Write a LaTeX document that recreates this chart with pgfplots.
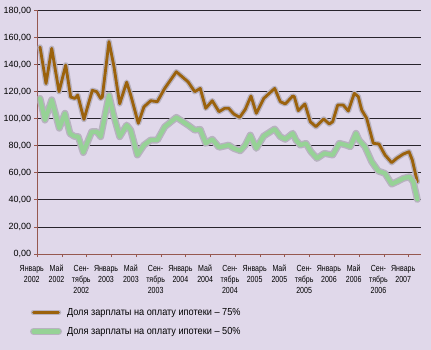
\documentclass[border=0pt]{standalone}
\usepackage{pgfplots}
\pgfplotsset{compat=1.18}
\usepackage{fontspec}
\setmainfont{Liberation Sans}
\newfontfamily\narrowfont[FakeStretch=0.8]{Liberation Sans}
\newfontfamily\legfont[FakeStretch=0.9]{Liberation Sans}
\definecolor{bgc}{RGB}{224,216,234}
\definecolor{axc}{RGB}{150,88,80}
\definecolor{gridc}{RGB}{40,36,44}
\definecolor{brownc}{RGB}{155,98,12}
\definecolor{greenc}{RGB}{150,210,150}
\definecolor{haloc}{RGB}{184,178,192}
\pgfplotstableread{
m v
0.44 153
1.41 126
2.33 152
3.51 120
4.59 139.7
5.40 116
6.09 115
6.53 117.5
7.54 99.5
8.89 121
9.60 120
10.24 115
10.50 116
11.58 157
12.39 138.4
13.31 111
14.44 127
15.09 117.5
16.32 96.6
17.23 108.8
18.32 113.3
19.39 112.6
20.58 122.4
22.46 134.7
24.35 127.3
25.43 120
26.33 122.4
27.21 107.7
28.27 113.3
29.35 105.2
30.27 107.7
30.92 107.7
31.73 103.5
32.70 101
33.60 106.9
34.52 116.8
35.38 104
36.58 115
38.35 122.4
39.26 112.6
40.06 110.9
41.26 116.8
41.52 116.3
42.16 105.9
43.24 110.9
44.10 97.8
45.02 94.1
46.27 99.8
47.17 96.1
47.72 97.8
48.53 110.1
49.43 110.1
50.24 105.7
51.21 118.8
51.86 116.3
52.41 106.4
53.21 100.3
54.28 81.8
55.20 81.3
56.17 73.2
57.25 67.5
58.06 70.7
59.13 73.9
60.05 75.6
60.58 69.5
61.39 53.4
}\brownt
\pgfplotstableread{
m v
0.44 115
1.24 99
2.33 114
3.55 93
4.47 104
5.28 89
5.98 87
6.62 86.7
7.43 75
8.79 90.4
9.60 90.4
10.24 86.7
11.58 117.5
12.39 101.5
13.31 86.7
14.44 95.3
15.09 91.6
16.16 73.2
17.23 80.5
18.32 84.2
19.39 84.2
20.58 94
22.46 101
24.35 95.3
25.43 91.6
26.33 92.1
27.21 81.8
28.27 84.8
29.35 78.9
30.27 79.8
30.92 80.5
31.73 78.1
32.79 76.3
33.60 80.5
34.41 87.9
35.38 78.1
36.58 87.2
38.35 92.4
39.26 86.7
40.06 84.8
41.26 89.2
41.79 84.2
42.49 80.5
43.40 81.8
44.21 75.6
45.19 70.7
46.37 74.4
47.72 73.2
48.79 81.8
49.87 80.5
50.57 79.3
51.49 89.2
51.97 84.2
52.93 79.3
54.02 68.2
55.09 61.3
56.17 59.6
57.25 51.7
58.06 53.4
59.13 55.9
60.11 57.1
60.74 53.4
61.39 40.4
}\greent
\begin{document}
\begin{tikzpicture}
\fill[bgc] (0,0) rectangle (431bp,350bp);
\begin{axis}[
  at={(37.3bp,96bp)}, anchor=south west,
  scale only axis, width=383.4bp, height=243.5bp,
  xmin=0, xmax=61.94, ymin=0, ymax=180,
  axis x line=bottom, axis y line=left,
  axis line style={color=axc, line width=0.8bp, -},
  xtick={0,4,...,60},
  xticklabels={{Январь\\2002},{Май\\2002},{Сен-\\тябрь\\2002},{Январь\\2003},{Май\\2003},{Сен-\\тябрь\\2003},{Январь\\2004},{Май\\2004},{Сен-\\тябрь\\2004},{Январь\\2005},{Май\\2005},{Сен-\\тябрь\\2005},{Январь\\2006},{Май\\2006},{Сен-\\тябрь\\2006},{Январь\\2007}},
  xticklabel style={anchor=north, align=center, inner sep=0pt, yshift=-8bp, xshift=-5.5bp,
     font=\narrowfont\fontsize{8.8bp}{11bp}\selectfont},
  ytick={0,20,...,180},
  yticklabel style={anchor=east, inner sep=0pt, xshift=-3bp, font=\fontsize{9bp}{10bp}\selectfont},
  /pgf/number format/.cd, fixed, fixed zerofill, precision=2, use comma, assume math mode=true,
  /pgfplots/.cd,
  tick align=outside, major tick length=3bp,
  tick style={color=axc, line width=0.8bp},
  ymajorgrids, major grid style={color=gridc, line width=0.8bp},
  legend style={draw=none, fill=none, inner sep=0pt, outer sep=0pt,
     nodes={inner sep=0pt}, row sep=10.5bp, column sep=5bp,
     at={(rel axis cs:-0.019,-0.222)}, anchor=north west,
     font=\legfont\fontsize{10.2bp}{11bp}\selectfont},
  legend cell align=left,
  legend image code/.code={\draw[#1] (2bp,0bp) -- (27bp,0bp);},
]
\addplot[preaction={draw, haloc, line width=5.5bp, line join=round, line cap=round},
  brownc, line width=2.8bp, line join=round, line cap=round] table[x=m,y=v]{\brownt};
\addlegendentry{Доля зарплаты на оплату ипотеки – 75\%}
\addplot[preaction={draw, haloc, line width=7bp, line join=round, line cap=round},
  greenc, line width=4.2bp, line join=round, line cap=round] table[x=m,y=v]{\greent};
\addlegendentry{Доля зарплаты на оплату ипотеки – 50\%}
\end{axis}
\pgfresetboundingbox
\path[use as bounding box] (0,0) rectangle (431bp,350bp);
\end{tikzpicture}
\end{document}
